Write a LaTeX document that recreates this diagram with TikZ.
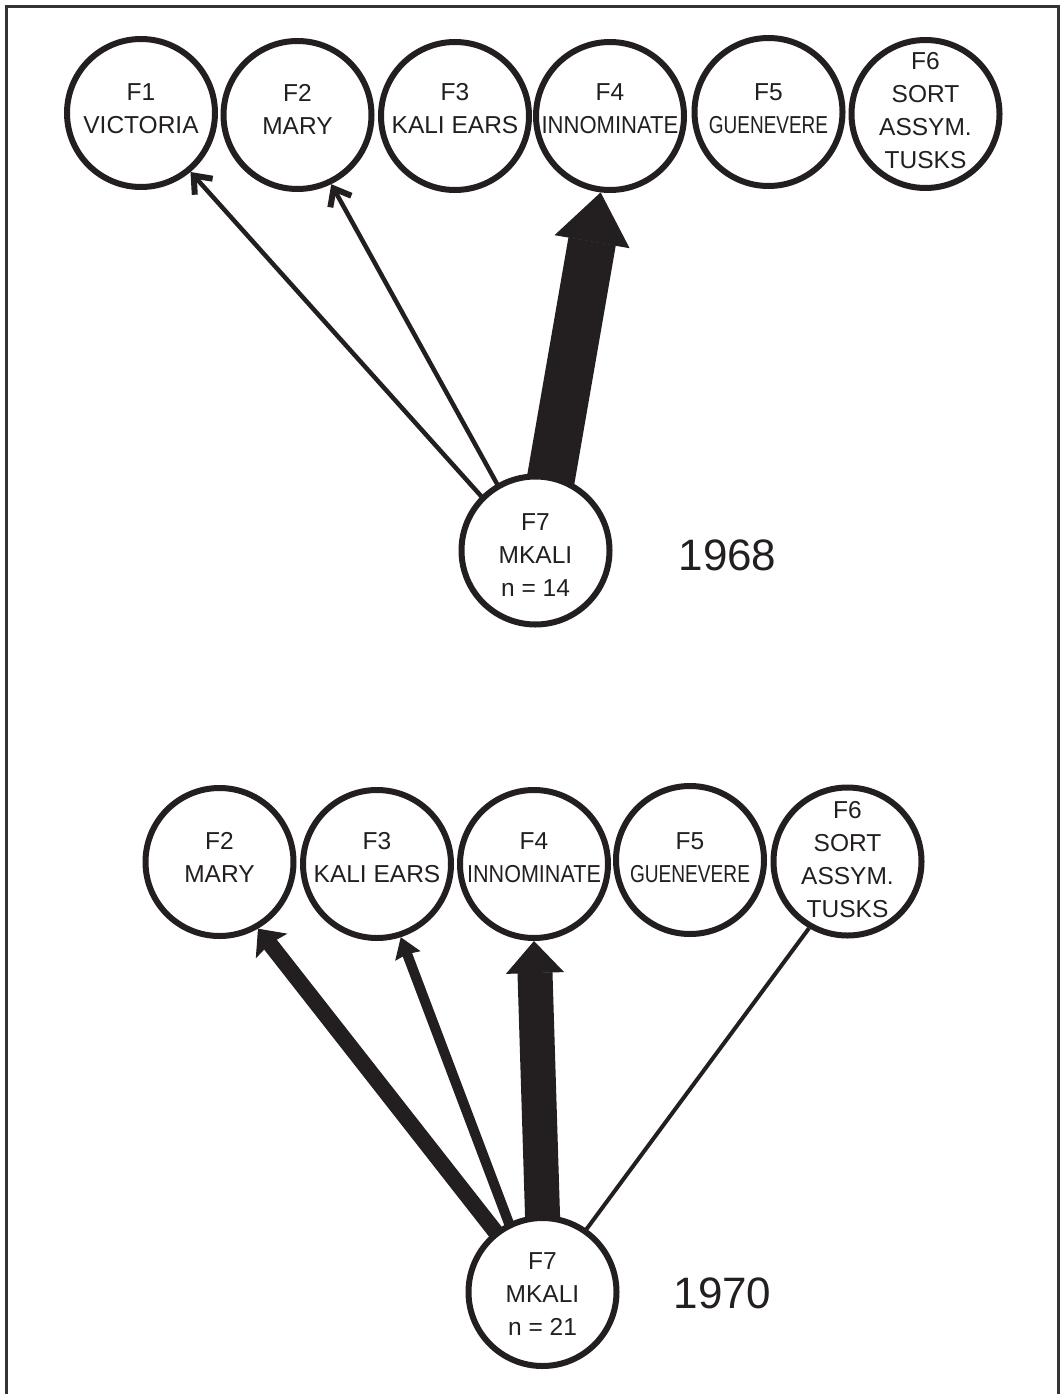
\documentclass[tikz,border=0pt]{standalone}
\usepackage{fontspec}
\setmainfont{Liberation Sans}
\usepackage{graphicx}
\usetikzlibrary{arrows.meta,backgrounds}
\definecolor{ink}{HTML}{231F20}
\definecolor{framecol}{HTML}{333333}
\begin{document}
\begin{tikzpicture}[x=1pt,y=-1pt,
  circ/.style={circle, draw=ink, line width=6pt, fill=white, minimum size=148pt, inner sep=0pt},
  lbl/.style={align=center, font=\fontsize{24.5}{33}\selectfont, text=ink, inner sep=0pt},
  yearlbl/.style={font=\fontsize{44}{50}\selectfont, text=ink, inner sep=0pt},
  barbarrow/.style={draw=ink, line width=4.5pt, shorten <=-12pt, -{Straight Barb[length=15pt,width=24pt,line width=6pt,sharp]}},
  fatarrow/.style={draw=ink, line width=#1, line cap=butt, shorten <=-20pt},
  plainline/.style={draw=ink, line width=4pt, shorten <=-10pt}
]
\useasboundingbox (0,0) rectangle (1062,1394);
\draw[framecol, line width=3pt] (6.5,1396) -- (6.5,6.5) -- (1058.5,6.5) -- (1058.5,1396);

% ---------- 1968 ----------
\node[circ] (F1a) at (141,113) {};
\node[circ] (F2a) at (297.5,115) {};
\node[circ] (F3a) at (455,116) {};
\node[circ] (F4a) at (610,116) {};
\node[circ] (F5a) at (768.5,112) {};
\node[circ] (F6a) at (925.5,114) {};
\node[circ] (F7a) at (535.5,550.5) {};

\node[lbl] (t1a) at (141,108.5) {F1\\VICTORIA};
\node[lbl] (t2a) at (297.5,109) {F2\\MARY};
\node[lbl] (t3a) at (455,109) {F3\\KALI EARS};
\node[lbl] (t4a) at (610,109) {F4\\\scalebox{0.9}[1]{INNOMINATE}};
\node[lbl] (t5a) at (768.5,109) {F5\\\scalebox{0.775}[1]{GUENEVERE}};
\node[lbl] (t6a) at (925.5,110.5) {F6\\SORT\\ASSYM.\\TUSKS};
\node[lbl] (t7a) at (535.5,555) {F7\\MKALI\\n = 14};
\node[yearlbl] (y1968) at (727.5,555.5) {1968};

\begin{pgfonlayer}{background}
\draw[barbarrow] (F7a.135) -- (F1a.-50);
\draw[barbarrow] (F7a.120) -- (F2a.-64);
\draw[fatarrow=48pt, -{Triangle[length=50pt,width=76pt,line width=1pt]}] (F7a.78) -- (F4a.-97);
\end{pgfonlayer}

% ---------- 1970 ----------
\node[circ] (F2b) at (219.5,862) {};
\node[circ] (F3b) at (377,864) {};
\node[circ] (F4b) at (534,864) {};
\node[circ] (F5b) at (690,860) {};
\node[circ] (F6b) at (847.5,861.5) {};
\node[circ] (F7b) at (542.5,1292) {};

\node[lbl] (t2b) at (219.5,857.5) {F2\\MARY};
\node[lbl] (t3b) at (377,857.5) {F3\\KALI EARS};
\node[lbl] (t4b) at (534,857.5) {F4\\\scalebox{0.88}[1]{INNOMINATE}};
\node[lbl] (t5b) at (690,857.5) {F5\\\scalebox{0.78}[1]{GUENEVERE}};
\node[lbl] (t6b) at (847.5,859.5) {F6\\SORT\\ASSYM.\\TUSKS};
\node[lbl] (t7b) at (542.5,1294.5) {F7\\MKALI\\n = 21};
\node[yearlbl] (y1970) at (722.5,1293) {1970};

\begin{pgfonlayer}{background}
\draw[fatarrow=16pt, -{Stealth[length=22pt,width=40pt,inset=3pt,line width=1pt]}] (F7b.128) -- (F2b.-60);
\draw[fatarrow=10pt, -{Stealth[length=20pt,width=27pt,inset=2pt,line width=1pt]}] (F7b.116) -- (F3b.-72);
\draw[fatarrow=35pt, -{Triangle[length=32pt,width=58pt,line width=1pt]}] (F7b.90) -- (F4b.-90);
\draw[plainline] (F7b.55) -- (F6b.-120);
\end{pgfonlayer}
\end{tikzpicture}
\end{document}
